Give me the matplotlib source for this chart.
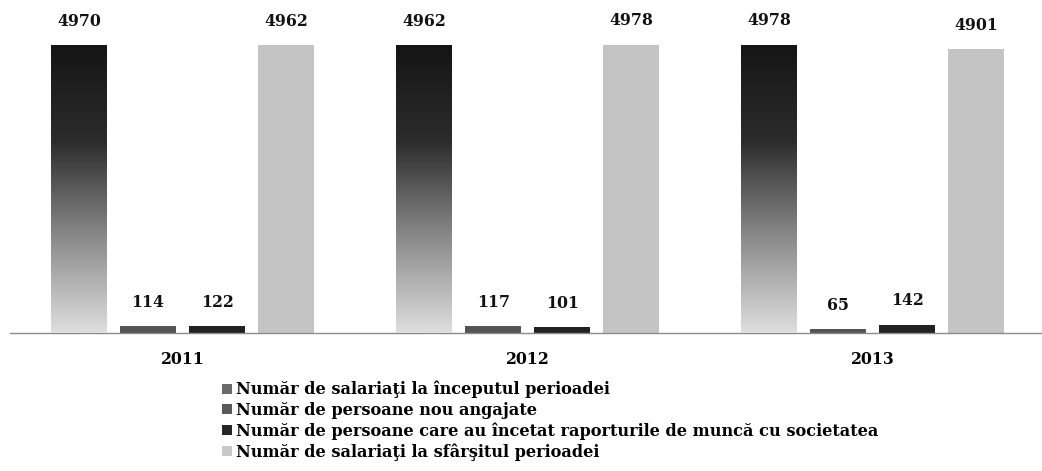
import numpy as np
import matplotlib
matplotlib.use("Agg")
import matplotlib.pyplot as plt
from matplotlib.patches import Patch
from matplotlib.colors import LinearSegmentedColormap

years = ["2011", "2012", "2013"]
series_names = [
    "Număr de salariaţi la începutul perioadei",
    "Număr de persoane nou angajate",
    "Număr de persoane care au încetat raporturile de muncă cu societatea",
    "Număr de salariaţi la sfârşitul perioadei",
]
start_employees = [4970, 4962, 4978]
new_hires = [114, 117, 65]
terminated = [122, 101, 142]
end_employees = [4962, 4978, 4901]

values = [start_employees, new_hires, terminated, end_employees]
colors = ["#3a3a3a", "#555555", "#222222", "#c4c4c4"]

plt.rcParams["font.family"] = ["DejaVu Serif"]
plt.rcParams["font.weight"] = "bold"

fig = plt.figure(figsize=(10.42, 4.71), dpi=100)
ax = fig.add_axes([10 / 1042, 1 - 333 / 471, 1032 / 1042, 323 / 471])

x = np.arange(len(years))
step = 0.2
width = 0.162
grad_cmap = LinearSegmentedColormap.from_list("g", ["#dedede", "#8a8a8a", "#2c2c2c", "#151515"])

for i, vals in enumerate(values):
    pos = x + (i - 1.5) * step
    bars = ax.bar(pos, vals, width=width, color=colors[i], edgecolor="none", zorder=2)
    if i == 0:
        grad = np.linspace(0, 1, 256).reshape(-1, 1)
        for b in bars:
            x0, y0 = b.get_x(), b.get_y()
            w, h = b.get_width(), b.get_height()
            im = ax.imshow(grad, cmap=grad_cmap, origin="lower", aspect="auto",
                           extent=[x0, x0 + w, y0, y0 + h], zorder=3)
            im.set_clip_path(b)
    ax.bar_label(bars, labels=[str(v) for v in vals], padding=11,
                 fontsize=11.3, fontweight="bold", color="#111111")

ax.set_xlim(-0.5, 2.49)
ax.set_ylim(0, 4970 * 323 / 288)
ax.set_xticks(x)
ax.set_xticklabels(years, fontsize=11.3, fontweight="bold")
ax.tick_params(axis="x", length=0, pad=13)
ax.set_yticks([])
for s in ["top", "right", "left"]:
    ax.spines[s].set_visible(False)
ax.spines["bottom"].set_color("#8c8c8c")
ax.spines["bottom"].set_linewidth(1.0)

legend_colors = ["#6a6a6a", "#5a5a5a", "#262626", "#c8c8c8"]
handles = [Patch(facecolor=c, edgecolor="none") for c in legend_colors]
fig.legend(handles, series_names, loc="upper left",
           bbox_to_anchor=(222 / 1042, 1 - 381 / 471), frameon=False,
           handlelength=0.6, handleheight=0.6, handletextpad=0.25,
           labelspacing=0.21, borderaxespad=0, borderpad=0,
           prop={"family": "DejaVu Serif", "weight": "bold", "size": 11.6})

fig.savefig("out.png", dpi=100)
